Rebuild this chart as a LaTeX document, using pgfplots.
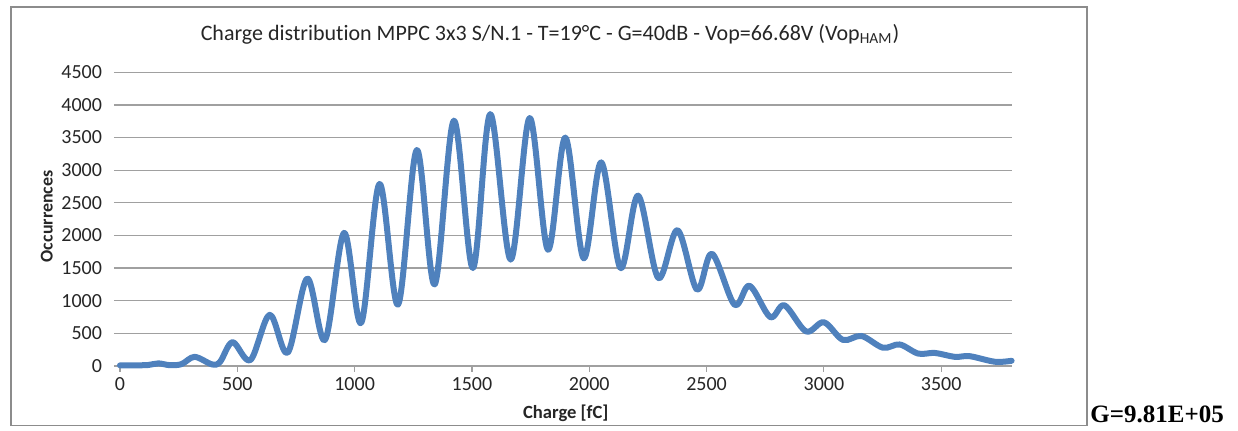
\documentclass[border=0pt]{standalone}
\usepackage{fontspec}
\setmainfont{Carlito}[Ligatures=NoCommon]
\newfontfamily\timesfont{Liberation Serif}
\usepackage{pgfplots}
\pgfplotsset{compat=1.18}
\definecolor{exblue}{RGB}{79,129,189}
\definecolor{gridgray}{RGB}{160,160,160}
\definecolor{framegray}{RGB}{140,140,140}

\begin{document}
\begin{tikzpicture}
% page size and the chart frame
\path (0,0) rectangle (619pt,-215.5pt);
\draw[framegray, line width=0.75pt] (5.5pt,-3.5pt) rectangle (543.5pt,-212.75pt);

\begin{axis}[
  at={(60pt,-183pt)}, anchor=south west,
  scale only axis, width=445.8pt, height=146.85pt,
  xmin=0, xmax=3800, ymin=0, ymax=4500,
  xtick={0,500,...,3500}, ytick={0,500,...,4500},
  axis x line*=bottom, axis y line*=left,
  y axis line style={draw=none},
  x axis line style={gridgray, line width=0.6pt},
  ymajorgrids, major grid style={gridgray, line width=0.6pt},
  tick align=outside, major tick length=3pt,
  tick style={gridgray, line width=0.6pt},
  ticklabel style={font=\fontsize{10}{12}\selectfont, text=black!85},
  yticklabel style={xshift=-2.5pt},
  xticklabel style={yshift=1pt},
  /pgf/number format/assume math mode=true,
  /pgf/number format/1000 sep={},
  xlabel={Charge [fC]}, ylabel={Occurrences},
  every axis x label/.style={at={(axis description cs:0.5,-0.16)}, anchor=center,
    font=\bfseries\fontsize{9.3}{11}\selectfont, text=black!85},
  every axis y label/.style={at={(axis description cs:-0.082,0.51)}, anchor=center, rotate=90,
    font=\bfseries\fontsize{9}{11}\selectfont, text=black!85},
  clip=false,
]
\addplot[exblue, line width=3pt, smooth, tension=0.55, line join=round, line cap=round]
  coordinates {
  (0,10) (60,10) (120,15) (164,40) (214,12) (263,30) (318,140) (392,25)
  (427,66) (480,365) (556,92) (638,785) (715,205) (798,1340) (874,400)
  (955,2040) (1028,660) (1106,2790) (1185,940) (1265,3310) (1341,1250)
  (1423,3760) (1504,1500) (1578,3860) (1665,1630) (1746,3800) (1824,1780)
  (1898,3500) (1976,1650) (2051,3120) (2133,1500) (2208,2610) (2294,1350)
  (2376,2080) (2459,1170) (2523,1720) (2619,940) (2683,1230) (2771,750)
  (2832,930) (2924,530) (3000,670) (3081,400) (3160,460) (3252,280)
  (3323,330) (3402,190) (3473,200) (3558,140) (3622,150) (3729,65) (3800,80)
  };
\end{axis}

\node[font=\fontsize{11}{13}\selectfont, text=black!85] at (275pt,-17pt)
  {Charge distribution MPPC 3x3 S/N.1 - T=19°C - G=40dB - Vop=66.68V (Vop\textsubscript{HAM})};
\node[anchor=base west, inner sep=0pt, font=\timesfont\bfseries\fontsize{12.5}{14}\selectfont]
  at (545pt,-211.5pt) {G=9.81E+05};
\end{tikzpicture}
\end{document}
